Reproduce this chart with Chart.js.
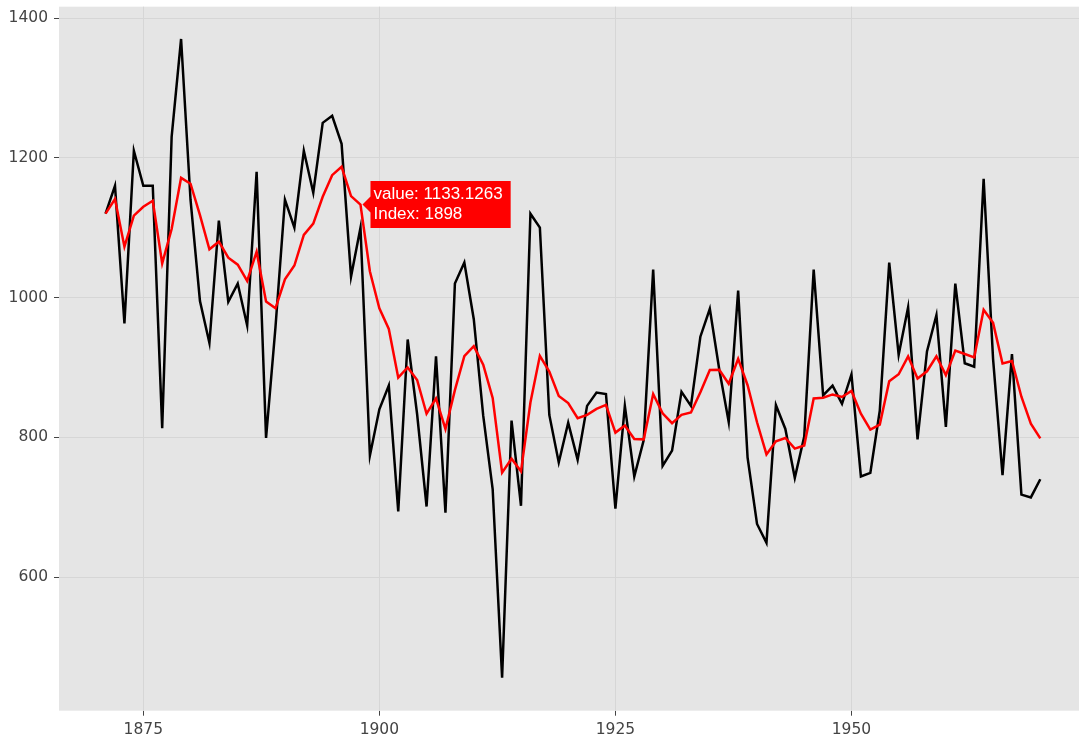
<!DOCTYPE html>
<html>
<head>
<meta charset="utf-8">
<script src="https://cdn.jsdelivr.net/npm/chart.js@4.4.0/dist/chart.umd.min.js"></script>
<style>
  html, body { margin: 0; padding: 0; background: #fff; }
  #wrap { width: 1079px; height: 740px; position: relative; }
</style>
</head>
<body>
<div id="wrap"><canvas id="nileChart"></canvas></div>
<script>
// Nile annual flow, 1871-1970, and its filtered level (red)
const years = [
  1871, 1872, 1873, 1874, 1875, 1876, 1877, 1878, 1879, 1880,
  1881, 1882, 1883, 1884, 1885, 1886, 1887, 1888, 1889, 1890,
  1891, 1892, 1893, 1894, 1895, 1896, 1897, 1898, 1899, 1900,
  1901, 1902, 1903, 1904, 1905, 1906, 1907, 1908, 1909, 1910,
  1911, 1912, 1913, 1914, 1915, 1916, 1917, 1918, 1919, 1920,
  1921, 1922, 1923, 1924, 1925, 1926, 1927, 1928, 1929, 1930,
  1931, 1932, 1933, 1934, 1935, 1936, 1937, 1938, 1939, 1940,
  1941, 1942, 1943, 1944, 1945, 1946, 1947, 1948, 1949, 1950,
  1951, 1952, 1953, 1954, 1955, 1956, 1957, 1958, 1959, 1960,
  1961, 1962, 1963, 1964, 1965, 1966, 1967, 1968, 1969, 1970
];

const flow = [
  1120, 1160, 963, 1210, 1160, 1160, 813, 1230, 1370, 1140,
  995, 935, 1110, 994, 1020, 960, 1180, 799, 958, 1140,
  1100, 1210, 1150, 1250, 1260, 1220, 1030, 1100, 774, 840,
  874, 694, 940, 833, 701, 916, 692, 1020, 1050, 969,
  831, 726, 456, 824, 702, 1120, 1100, 832, 764, 821,
  768, 845, 864, 862, 698, 845, 744, 796, 1040, 759,
  781, 865, 845, 944, 984, 897, 822, 1010, 771, 676,
  649, 846, 812, 742, 801, 1040, 860, 874, 848, 890,
  744, 749, 838, 1050, 918, 986, 797, 923, 975, 815,
  1020, 906, 901, 1170, 912, 746, 919, 718, 714, 740
];

const level = [
  1120, 1140.93, 1072.80, 1117.31, 1129.97, 1138.46, 1048.86, 1098.04, 1171.31, 1162.91,
  1117.96, 1069.04, 1079.98, 1057.01, 1047.13, 1023.87, 1065.56, 994.39, 984.67, 1026.14,
  1045.86, 1089.69, 1105.79, 1144.29, 1175.18, 1187.15, 1145.19, 1133.1263, 1037.23, 984.57,
  955.05, 885.35, 899.94, 882.07, 833.72, 855.69, 811.98, 867.52, 916.24, 930.33,
  903.81, 856.33, 749.44, 769.35, 751.37, 849.79, 916.60, 894.01, 859.30, 849.07,
  827.42, 832.11, 840.62, 846.33, 806.73, 816.95, 797.47, 797.08, 861.94, 834.46,
  820.19, 832.15, 835.58, 864.53, 896.43, 896.58, 876.67, 912.27, 874.55, 821.54,
  775.47, 794.30, 799.03, 783.80, 788.39, 855.57, 856.75, 861.36, 857.79, 866.39,
  833.71, 811.09, 818.27, 880.14, 890.25, 915.82, 884.10, 894.49, 915.99, 889.03,
  924.00, 919.19, 914.33, 982.59, 963.74, 905.60, 909.18, 858.13, 819.65, 798.38
];

const xTicks = [1875, 1900, 1925, 1950];
const yTicks = [600, 800, 1000, 1200, 1400];
const highlightYear = 1898;

const toPoints = vals => vals.map((v, i) => ({ x: years[i], y: v }));

// grey panel behind the plot
const panelBg = {
  id: 'panelBg',
  beforeDraw(chart) {
    const { ctx, chartArea: a } = chart;
    ctx.save();
    ctx.fillStyle = '#e5e5e5';
    ctx.fillRect(a.left, a.top, a.right - a.left, a.bottom - a.top);
    ctx.restore();
  }
};

const tickFont = { family: "'DejaVu Sans', Verdana, sans-serif", size: 15.5 };

const chart = new Chart(document.getElementById('nileChart'), {
  type: 'line',
  data: {
    datasets: [
      {
        label: 'level',
        data: toPoints(level),
        borderColor: '#ff0000',
        borderWidth: 2.5,
        pointRadius: 0,
        pointHoverRadius: 0,
        tension: 0,
        fill: false
      },
      {
        label: 'flow',
        data: toPoints(flow),
        borderColor: '#000000',
        borderWidth: 2.5,
        pointRadius: 0,
        pointHoverRadius: 0,
        tension: 0,
        fill: false
      }
    ]
  },
  options: {
    responsive: true,
    maintainAspectRatio: false,
    animation: false,
    events: [],
    layout: { padding: { top: 6.7, right: 0, left: 0, bottom: 0 } },
    plugins: {
      legend: { display: false },
      tooltip: {
        enabled: true,
        backgroundColor: '#ff0000',
        bodyColor: '#ffffff',
        bodyFont: { family: "'Liberation Sans', Arial, sans-serif", size: 17, lineHeight: 1.2 },
        bodySpacing: 0,
        padding: { top: 3, bottom: 3, left: 3, right: 8 },
        cornerRadius: 0,
        caretSize: 8,
        caretPadding: 2,
        displayColors: false,
        xAlign: 'left',
        yAlign: 'center',
        callbacks: {
          title: () => '',
          label: c => ['value: ' + c.raw.y, 'Index: ' + c.raw.x]
        }
      }
    },
    scales: {
      x: {
        type: 'linear',
        min: 1866.07,
        max: 1974.1,
        afterBuildTicks: s => { s.ticks = xTicks.map(v => ({ value: v })); },
        afterFit: s => { s.height = 29.3; s.paddingLeft = 0; s.paddingRight = 0; },
        border: { display: false },
        grid: { color: '#d6d6d6', lineWidth: 1, tickColor: '#444', tickLength: 5 },
        ticks: { color: '#444', font: tickFont, padding: 5, maxRotation: 0, callback: v => String(v) }
      },
      y: {
        type: 'linear',
        min: 408.8,
        max: 1416.2,
        afterBuildTicks: s => { s.ticks = yTicks.map(v => ({ value: v })); },
        afterFit: s => { s.width = 59; s.paddingTop = 0; s.paddingBottom = 0; },
        border: { display: false },
        grid: { color: '#d6d6d6', lineWidth: 1, tickColor: '#444', tickLength: 5 },
        ticks: { color: '#444', font: tickFont, padding: 6, callback: v => String(v) }
      }
    }
  },
  plugins: [panelBg]
});

// show the hover label on the red line at 1898
chart.tooltip.setActiveElements(
  [{ datasetIndex: 0, index: years.indexOf(highlightYear) }],
  { x: 0, y: 0 }
);
chart.draw();
</script>
</body>
</html>
